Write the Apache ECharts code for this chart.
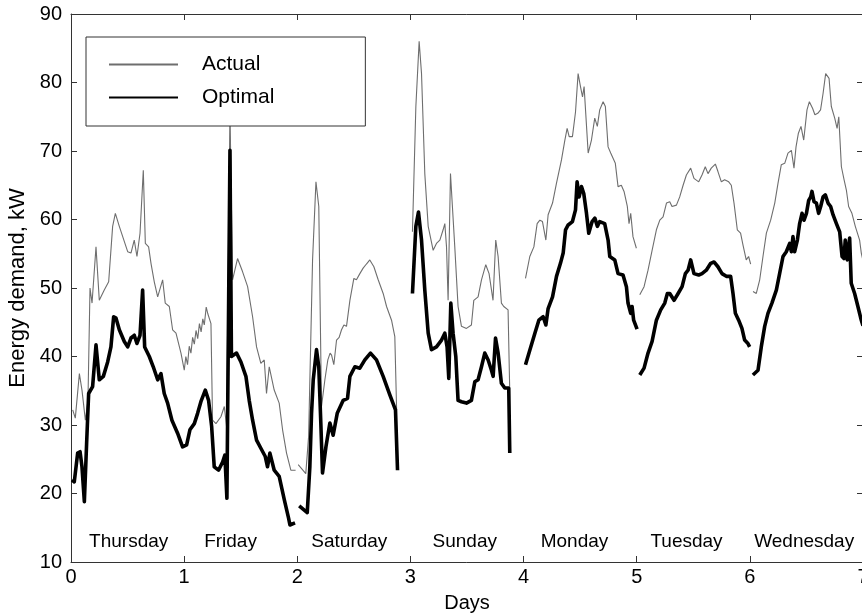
<!DOCTYPE html>
<html><head><meta charset="utf-8">
<script src="https://cdn.jsdelivr.net/npm/echarts@6/dist/echarts.min.js"></script>
<style>html,body{margin:0;padding:0;background:#fff}#c{width:862px;height:616px}</style>
</head><body><div id="c"></div>
<script>
// ---- data ----
const xMin = 0, xMax = 7, xStep = 1;
const yMin = 10, yMax = 90, yStep = 10;
const dayNames = ['Thursday','Friday','Saturday','Sunday','Monday','Tuesday','Wednesday'];
const dayPos = [0.51, 1.41, 2.46, 3.48, 4.45, 5.44, 6.48];
const dayLabelLevel = 12.9;

const actualThuFri = [[0.015,32.2],[0.038,31.0],[0.074,37.5],[0.097,35.1],[0.127,30.7],[0.150,33.6],[0.168,50.0],[0.186,47.8],[0.221,56.0],[0.250,48.2],[0.294,49.7],[0.333,50.9],[0.368,59.0],[0.392,60.9],[0.427,59.0],[0.501,55.3],[0.530,55.1],[0.559,57.0],[0.583,54.6],[0.610,58.0],[0.639,67.2],[0.657,56.5],[0.686,56.0],[0.707,53.6],[0.736,50.9],[0.766,48.7],[0.810,51.2],[0.833,47.8],[0.869,47.3],[0.898,43.9],[0.928,43.4],[0.972,40.5],[1.001,38.0],[1.015,40.0],[1.030,38.8],[1.045,41.5],[1.060,40.5],[1.075,42.8],[1.090,41.8],[1.105,43.8],[1.120,42.6],[1.135,44.8],[1.150,43.6],[1.165,45.5],[1.178,44.6],[1.195,47.2],[1.210,46.2],[1.237,44.8],[1.251,30.7],[1.281,30.2],[1.325,31.2],[1.355,32.7],[1.375,29.8],[1.405,76.0],[1.428,51.2],[1.472,54.3],[1.516,52.4],[1.561,50.2],[1.605,45.8],[1.640,41.4],[1.678,39.0],[1.708,39.5],[1.728,34.6],[1.752,38.5],[1.796,35.1],[1.840,33.2],[1.870,29.3],[1.905,25.9],[1.943,23.4],[1.985,23.4]];
const actualSat = [[2.008,24.2],[2.040,23.6],[2.075,22.9],[2.100,28.3],[2.135,54.1],[2.165,65.5],[2.190,61.9],[2.214,32.7],[2.244,36.6],[2.270,39.5],[2.290,40.5],[2.303,40.2],[2.323,38.8],[2.347,42.4],[2.370,42.8],[2.391,43.9],[2.412,44.6],[2.435,44.4],[2.465,48.2],[2.500,51.4],[2.523,51.2],[2.553,52.1],[2.582,52.9],[2.611,53.5],[2.641,54.1],[2.677,53.1],[2.715,51.2],[2.759,49.2],[2.789,47.3],[2.833,45.3],[2.862,42.9],[2.878,32.2]];
const actualSun = [[3.018,58.2],[3.048,76.5],[3.077,86.0],[3.098,81.3],[3.127,66.7],[3.157,59.0],[3.201,55.5],[3.230,56.5],[3.260,57.0],[3.289,58.5],[3.304,59.4],[3.319,56.0],[3.333,48.2],[3.354,66.7],[3.371,61.9],[3.392,56.0],[3.421,47.3],[3.451,44.4],[3.495,44.1],[3.539,44.6],[3.560,48.2],[3.598,48.7],[3.628,51.2],[3.666,53.4],[3.695,52.1],[3.730,48.2],[3.754,57.0],[3.775,54.6],[3.804,47.8],[3.825,47.3],[3.863,46.8],[3.877,35.6]];
const actualMon = [[4.017,51.4],[4.055,54.6],[4.091,56.0],[4.120,59.4],[4.144,59.9],[4.167,59.7],[4.197,57.0],[4.217,60.7],[4.256,62.4],[4.291,65.3],[4.335,68.7],[4.365,71.6],[4.385,73.3],[4.403,72.1],[4.432,72.1],[4.459,75.7],[4.482,81.3],[4.503,79.4],[4.521,77.9],[4.535,79.4],[4.571,69.7],[4.600,71.6],[4.629,74.8],[4.652,73.6],[4.673,76.0],[4.703,77.2],[4.723,76.5],[4.747,70.6],[4.770,69.7],[4.811,68.2],[4.835,64.8],[4.864,65.0],[4.888,64.1],[4.917,61.9],[4.932,59.4],[4.947,60.9],[4.967,57.5],[4.997,55.8]];
const actualTue = [[5.027,49.0],[5.065,50.2],[5.100,52.6],[5.136,55.5],[5.174,58.5],[5.204,59.9],[5.233,60.4],[5.263,62.4],[5.292,62.6],[5.312,61.9],[5.351,62.1],[5.380,63.3],[5.410,65.0],[5.439,66.5],[5.477,67.5],[5.506,66.0],[5.548,65.5],[5.577,66.5],[5.606,67.7],[5.630,66.7],[5.659,67.5],[5.695,68.1],[5.718,67.0],[5.748,65.5],[5.777,65.8],[5.813,65.5],[5.836,65.0],[5.860,62.4],[5.889,58.5],[5.918,58.0],[5.939,56.3],[5.968,54.1],[5.989,54.6],[6.007,53.5]];
const actualWed = [[6.028,49.5],[6.057,49.2],[6.087,51.2],[6.116,54.6],[6.146,58.0],[6.184,59.9],[6.220,62.4],[6.249,65.3],[6.278,68.0],[6.308,68.2],[6.337,69.7],[6.367,70.1],[6.390,67.5],[6.408,70.6],[6.429,72.6],[6.452,73.6],[6.476,71.6],[6.505,76.0],[6.526,77.2],[6.543,77.4],[6.555,76.2],[6.575,75.3],[6.600,75.5],[6.625,76.0],[6.647,78.4],[6.670,81.3],[6.700,80.6],[6.720,76.5],[6.750,74.8],[6.771,73.3],[6.786,75.0],[6.809,67.7],[6.833,65.8],[6.853,64.3],[6.873,61.9],[6.902,60.9],[6.932,59.0],[6.970,57.0],[6.985,55.1],[7.000,54.0]];

const optimalThuFri = [[0.009,22.0],[0.029,21.7],[0.059,25.9],[0.080,26.1],[0.097,23.9],[0.118,18.8],[0.138,27.3],[0.156,34.6],[0.191,35.6],[0.221,41.7],[0.250,36.6],[0.286,37.1],[0.324,39.2],[0.353,41.4],[0.377,45.8],[0.398,45.6],[0.427,43.9],[0.471,42.2],[0.501,41.4],[0.530,42.7],[0.559,43.1],[0.583,41.9],[0.610,43.1],[0.633,49.7],[0.651,41.4],[0.692,40.0],[0.727,38.5],[0.766,36.6],[0.795,37.5],[0.824,34.6],[0.854,33.2],[0.892,30.7],[0.942,28.8],[0.986,26.8],[1.022,27.1],[1.051,29.3],[1.090,30.2],[1.119,31.7],[1.148,33.4],[1.187,35.1],[1.216,33.6],[1.243,29.8],[1.266,23.9],[1.304,23.4],[1.340,24.6],[1.360,25.6],[1.378,19.3],[1.405,70.1],[1.418,40.0],[1.463,40.5],[1.502,39.2],[1.546,37.1],[1.575,33.6],[1.605,30.7],[1.640,27.8],[1.678,26.6],[1.717,25.4],[1.737,23.9],[1.758,25.9],[1.796,23.4],[1.840,22.5],[1.885,19.1],[1.923,16.4],[1.935,15.4],[1.980,15.7]];
const optimalSat = [[2.017,18.2],[2.088,17.2],[2.111,23.9],[2.126,31.7],[2.141,36.6],[2.170,41.0],[2.190,38.5],[2.208,30.3],[2.223,23.0],[2.253,26.8],[2.288,30.3],[2.317,28.5],[2.353,31.7],[2.406,33.6],[2.444,33.9],[2.465,37.1],[2.509,38.5],[2.553,38.3],[2.597,39.5],[2.647,40.5],[2.700,39.5],[2.759,37.1],[2.818,34.4],[2.868,32.2],[2.886,23.4]];
const optimalSun = [[3.018,49.2],[3.048,59.0],[3.071,61.1],[3.098,57.0],[3.127,49.7],[3.157,43.4],[3.186,41.0],[3.230,41.4],[3.275,42.4],[3.304,43.4],[3.324,41.4],[3.339,36.8],[3.357,47.8],[3.377,43.4],[3.401,40.0],[3.421,33.6],[3.451,33.4],[3.495,33.2],[3.539,33.6],[3.569,36.3],[3.598,36.6],[3.628,38.5],[3.657,40.5],[3.687,39.5],[3.716,38.0],[3.731,37.1],[3.752,42.7],[3.775,40.5],[3.804,36.1],[3.834,35.4],[3.869,35.4],[3.878,25.9]];
const optimalMon = [[4.017,38.8],[4.055,40.9],[4.100,43.4],[4.135,45.3],[4.173,45.8],[4.197,44.6],[4.217,47.0],[4.256,48.7],[4.291,51.7],[4.326,53.6],[4.350,55.1],[4.371,58.5],[4.394,59.2],[4.432,59.7],[4.459,61.4],[4.473,65.5],[4.491,63.3],[4.512,64.8],[4.532,63.8],[4.556,60.9],[4.576,58.0],[4.606,59.7],[4.630,60.2],[4.652,59.0],[4.673,59.7],[4.717,59.4],[4.747,57.0],[4.762,54.6],[4.806,54.1],[4.835,52.1],[4.879,51.9],[4.909,50.2],[4.923,47.8],[4.947,46.3],[4.959,47.3],[4.973,45.3],[5.003,44.0]];
const optimalTue = [[5.027,37.3],[5.065,38.3],[5.100,40.5],[5.136,42.2],[5.174,45.3],[5.212,46.8],[5.248,47.8],[5.271,49.2],[5.292,49.2],[5.330,48.2],[5.366,49.2],[5.401,50.2],[5.430,52.1],[5.454,52.6],[5.477,54.1],[5.506,52.1],[5.548,51.9],[5.577,52.1],[5.615,52.6],[5.654,53.6],[5.683,53.8],[5.718,53.1],[5.754,52.1],[5.792,51.7],[5.830,51.7],[5.851,49.2],[5.872,46.3],[5.901,45.3],[5.930,44.1],[5.954,42.4],[5.983,41.9],[5.998,41.4]];
const optimalWed = [[6.027,37.3],[6.072,38.0],[6.101,41.4],[6.131,44.4],[6.160,46.3],[6.195,47.8],[6.234,49.7],[6.263,52.1],[6.293,54.6],[6.322,55.3],[6.352,56.5],[6.367,55.3],[6.381,57.5],[6.396,55.3],[6.420,57.0],[6.440,59.4],[6.461,60.9],[6.479,59.9],[6.500,60.9],[6.520,62.8],[6.538,63.3],[6.549,64.1],[6.567,62.6],[6.588,62.4],[6.608,60.9],[6.626,61.9],[6.647,63.3],[6.667,63.6],[6.691,62.4],[6.714,61.9],[6.735,60.7],[6.765,59.4],[6.794,58.2],[6.815,54.6],[6.832,54.3],[6.843,57.0],[6.861,54.1],[6.882,57.3],[6.896,50.7],[6.926,49.2],[6.955,47.3],[6.985,45.3],[7.000,44.5]];

// ---- build ----
function joinSegments(segs){
  const out = [];
  segs.forEach((s, i) => {
    if (i > 0) out.push([s[0][0], '-']);
    s.forEach(p => out.push(p));
  });
  return out;
}
const actualData = joinSegments([actualThuFri, actualSat, actualSun, actualMon, actualTue, actualWed]);
const optimalData = joinSegments([optimalThuFri, optimalSat, optimalSun, optimalMon, optimalTue, optimalWed]);

const FONT = "'Liberation Sans', Arial, Helvetica, sans-serif";
const AX = '#333';
const chart = echarts.init(document.getElementById('c'), null, {renderer: 'canvas'});

const baseX = {
  type: 'value', min: xMin, max: xMax, interval: xStep,
  axisLine: {show: true, onZero: false, lineStyle: {color: AX, width: 1}},
  axisTick: {show: true, inside: true, length: 6, lineStyle: {color: AX}},
  splitLine: {show: false}
};
const baseY = {
  type: 'value', min: yMin, max: yMax, interval: yStep,
  axisLine: {show: true, onZero: false, lineStyle: {color: AX, width: 1}},
  axisTick: {show: true, inside: true, length: 6, lineStyle: {color: AX}},
  splitLine: {show: false}
};

chart.setOption({
  animation: false,
  backgroundColor: '#fff',
  grid: {left: 71, top: 14, width: 792, height: 548, containLabel: false, outerBoundsMode: 'none'},
  legend: {
    left: 86, top: 37, orient: 'vertical',
    padding: [17, 91, 18, 22],
    itemWidth: 69, itemHeight: 21, itemGap: 12,
    borderColor: AX, borderWidth: 1, backgroundColor: '#fff',
    itemStyle: {opacity: 0, borderWidth: 0},
    textStyle: {fontSize: 21, fontFamily: FONT, color: '#000', padding: [0, 0, 0, 19]},
    data: ['Actual', 'Optimal'],
    selectedMode: false
  },
  xAxis: [
    Object.assign({}, baseX, {
      position: 'bottom',
      axisLabel: {show: true, fontSize: 20, fontFamily: FONT, color: '#000', margin: 5},
      name: 'Days', nameLocation: 'middle', nameGap: 31,
      nameTextStyle: {fontSize: 20, fontFamily: FONT, color: '#000'}
    }),
    Object.assign({}, baseX, {position: 'top', axisLabel: {show: false}})
  ],
  yAxis: [
    Object.assign({}, baseY, {
      position: 'left',
      axisLabel: {show: true, fontSize: 20, fontFamily: FONT, color: '#000', margin: 9},
      name: 'Energy demand, kW', nameLocation: 'middle', nameGap: 36,
      nameTextStyle: {fontSize: 22, fontFamily: FONT, color: '#000'}
    }),
    Object.assign({}, baseY, {position: 'right', axisLabel: {show: false}})
  ],
  series: [
    {
      name: 'Actual', type: 'line', data: actualData, xAxisIndex: 0, yAxisIndex: 0,
      symbol: 'none', showSymbol: false, connectNulls: false,
      lineStyle: {color: '#6e6e6e', width: 1.1}, itemStyle: {color: '#6e6e6e'},
      z: 2
    },
    {
      name: 'Optimal', type: 'line', data: optimalData, xAxisIndex: 0, yAxisIndex: 0,
      symbol: 'none', showSymbol: false, connectNulls: false,
      lineStyle: {color: '#000', width: 3.6, join: 'round'}, itemStyle: {color: '#000'},
      z: 3
    }
  ]
});

// day labels placed through the chart's own scales
const dayGraphics = dayNames.map((name, i) => {
  const p = chart.convertToPixel({gridIndex: 0}, [dayPos[i], dayLabelLevel]);
  return {
    type: 'text', x: p[0], y: p[1], silent: true, z: 10,
    style: {text: name, fill: '#000', font: '19px ' + FONT, textAlign: 'center', textVerticalAlign: 'middle'}
  };
});
chart.setOption({graphic: dayGraphics});
</script>
</body></html>
